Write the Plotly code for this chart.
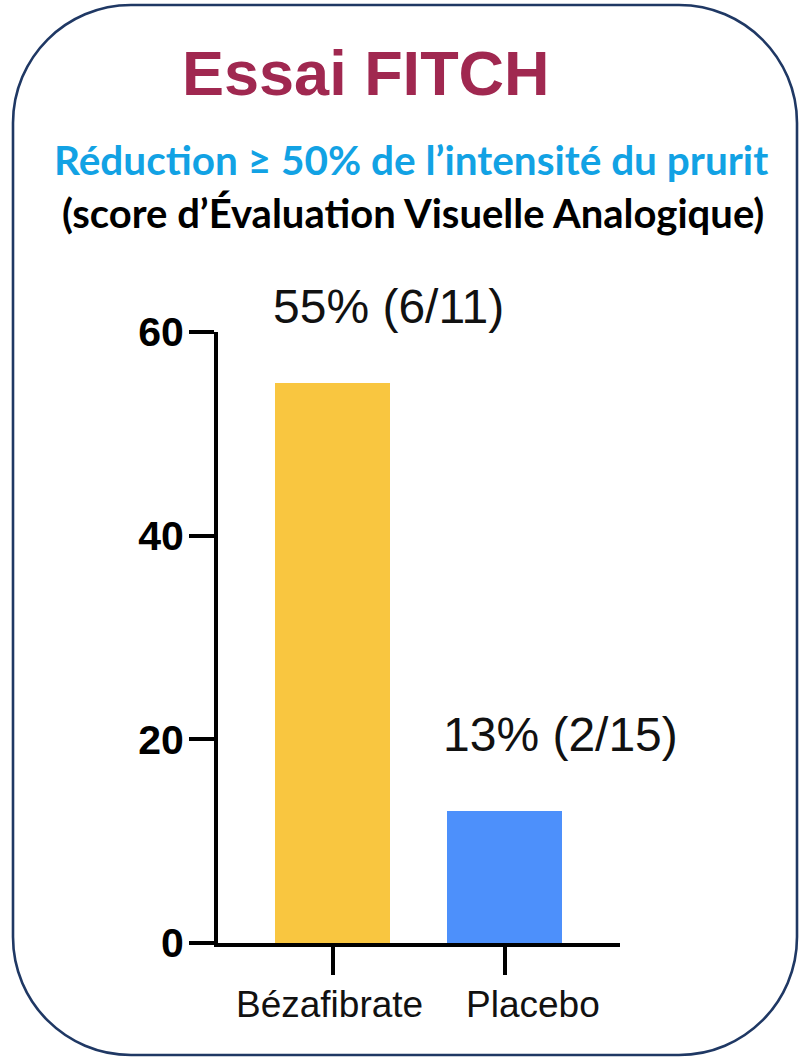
import plotly.graph_objects as go

# ---- data ----
categories = ["Bézafibrate", "Placebo"]
values = [55, 13]
value_labels = ["55% (6/11)", "13% (2/15)"]
bar_colors = ["#F9C640", "#4D90FB"]
y_tickvals = [0, 20, 40, 60]

title_text = "Essai FITCH"
subtitle_1 = "Réduction ≥ 50% de l’intensité du prurit"
subtitle_2 = "(score d’Évaluation Visuelle Analogique)"

# ---- layout geometry ----
W, H = 800, 1058
ML, MR, MT, MB = 218, 180, 332, 115
PW, PH = W - ML - MR, H - MT - MB


def px_x(px):
    return (px - ML) / PW


def px_y(py):
    return (H - MB - py) / PH


fig = go.Figure()
fig.add_trace(go.Bar(
    x=categories, y=values, marker=dict(color=bar_colors, line=dict(width=0)),
    width=0.67, hoverinfo="skip", showlegend=False,
))

# value labels above bars
for c, v, t in zip(categories, values, value_labels):
    fig.add_annotation(x=c, y=v, xref="x", yref="y", text=t, showarrow=False,
                       xanchor="center", yanchor="middle", xshift=56, yshift=76,
                       font=dict(family="Liberation Sans, Arial", size=48, color="#111111"))

# category labels
cat_xshift = [-3, 28]
for c, s in zip(categories, cat_xshift):
    fig.add_annotation(x=c, y=0, xref="x", yref="y", text=c, showarrow=False,
                       xanchor="center", yanchor="middle", xshift=s, yshift=-61,
                       font=dict(family="Liberation Sans, Arial", size=37, color="#111111"))

# titles
fig.add_annotation(x=px_x(366), y=px_y(73), xref="paper", yref="paper", text=title_text,
                   showarrow=False, xanchor="center", yanchor="middle",
                   font=dict(family="Liberation Sans, Arial", size=63, color="#A02850", weight="bold"))
fig.add_annotation(x=px_x(411), y=px_y(160), xref="paper", yref="paper", text=subtitle_1,
                   showarrow=False, xanchor="center", yanchor="middle",
                   font=dict(family="Lato", size=40.5, color="#12A2E4", weight="bold"))
fig.add_annotation(x=px_x(413), y=px_y(213), xref="paper", yref="paper", text=subtitle_2,
                   showarrow=False, xanchor="center", yanchor="middle",
                   font=dict(family="Lato", size=40, color="#000000", weight="bold"))

# rounded border (cubic-bezier corners), computed in pixels then mapped to paper
L, R, T, B, rad = 13, 797, 5, 1055, 118
k = 0.5523 * rad
pts = [
    ("M", [(L + rad, T)]),
    ("L", [(R - rad, T)]),
    ("C", [(R - rad + k, T), (R, T + rad - k), (R, T + rad)]),
    ("L", [(R, B - rad)]),
    ("C", [(R, B - rad + k), (R - rad + k, B), (R - rad, B)]),
    ("L", [(L + rad, B)]),
    ("C", [(L + rad - k, B), (L, B - rad + k), (L, B - rad)]),
    ("L", [(L, T + rad)]),
    ("C", [(L, T + rad - k), (L + rad - k, T), (L + rad, T)]),
]
path = ""
for cmd, ps in pts:
    path += cmd + " " + " ".join(f"{px_x(a):.5f},{px_y(b):.5f}" for a, b in ps) + " "
path += "Z"
fig.add_shape(type="path", path=path, xref="paper", yref="paper",
              line=dict(color="#1F3864", width=2.6), fillcolor="rgba(0,0,0,0)", layer="below")

fig.update_xaxes(
    range=[-0.666, 1.671], showline=True, linecolor="#000000", linewidth=4,
    ticks="outside", ticklen=28, tickwidth=4, tickcolor="#000000",
    showticklabels=False, showgrid=False, zeroline=False, fixedrange=True,
)
fig.update_yaxes(
    range=[0, 60], tickvals=y_tickvals, showline=True, linecolor="#000000", linewidth=4,
    ticks="outside", ticklen=25, tickwidth=4, tickcolor="#000000",
    tickfont=dict(family="Liberation Sans, Arial", size=41, color="#000000", weight="bold"),
    ticklabelstandoff=-3, showgrid=False, zeroline=False, fixedrange=True,
)
fig.update_layout(
    width=W, height=H, margin=dict(l=ML, r=MR, t=MT, b=MB, autoexpand=False),
    paper_bgcolor="white", plot_bgcolor="white", bargap=0,
)
fig.write_html("out.html", config={"displayModeBar": False},
               post_script="document.body.style.margin='0';document.body.style.overflow='hidden';")
